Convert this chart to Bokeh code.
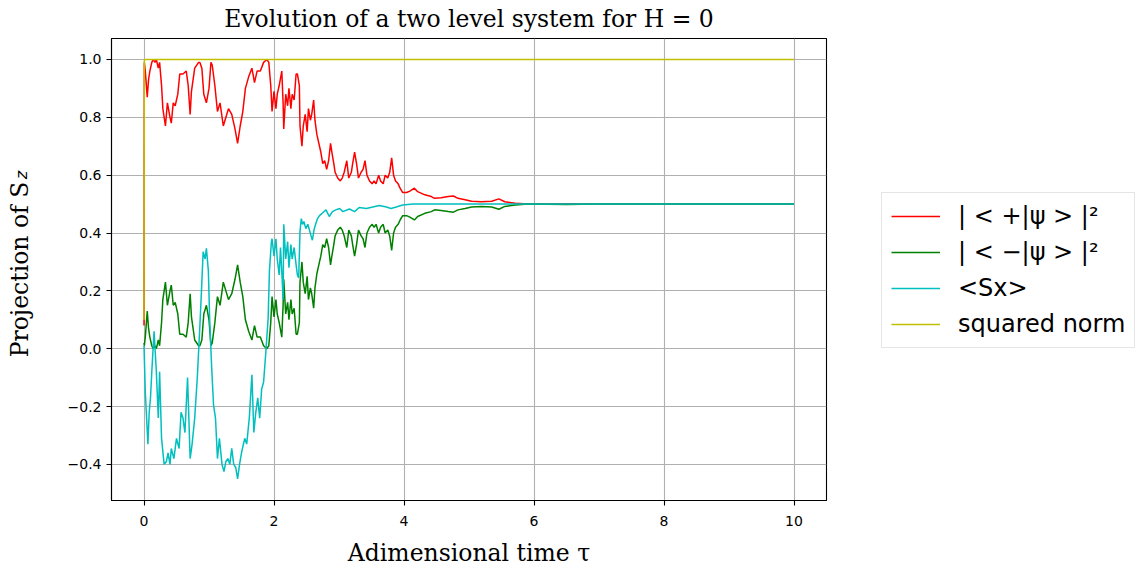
from bokeh.embed import file_html
from bokeh.layouts import row
from bokeh.models import FixedTicker, Legend, LegendItem, LinearAxis, Range1d
from bokeh.plotting import figure
from bokeh.resources import INLINE

# ---- data -----------------------------------------------------------------
# time grid shared by the two projection probabilities
tau_pm = [
    0.000, 0.005, 0.02, 0.05, 0.07, 0.09, 0.12, 0.14, 0.17, 0.19,
    0.22, 0.24, 0.27, 0.29, 0.33, 0.36, 0.40, 0.42, 0.45, 0.48,
    0.52, 0.55, 0.60, 0.65, 0.68, 0.71, 0.73, 0.78, 0.84, 0.86,
    0.89, 0.92, 0.96, 1.00, 1.03, 1.05, 1.09, 1.13, 1.17, 1.22,
    1.26, 1.30, 1.35, 1.40, 1.44, 1.48, 1.52, 1.56, 1.61, 1.66,
    1.70, 1.74, 1.79, 1.84, 1.89, 1.92, 1.95, 1.97, 2.00, 2.03,
    2.05, 2.08, 2.12, 2.14, 2.15, 2.18, 2.21, 2.23, 2.26, 2.28,
    2.31, 2.34, 2.36, 2.39, 2.40, 2.43, 2.45, 2.48, 2.51, 2.53,
    2.56, 2.58, 2.61, 2.63, 2.66, 2.70, 2.72, 2.75, 2.78, 2.81,
    2.84, 2.87, 2.89, 2.92, 2.94, 2.98, 3.02, 3.05, 3.08, 3.12,
    3.15, 3.19, 3.21, 3.24, 3.27, 3.30, 3.34, 3.37, 3.40, 3.43,
    3.47, 3.51, 3.54, 3.57, 3.61, 3.64, 3.68, 3.71, 3.75, 3.78,
    3.81, 3.84, 3.87, 3.91, 3.94, 3.98, 4.04, 4.09, 4.16, 4.21,
    4.32, 4.42, 4.47, 4.57, 4.68, 4.76, 4.83, 4.94, 5.04, 5.19,
    5.35, 5.46, 5.55, 5.71, 5.91, 6.50, 7.00, 10.00,
]

# |<+|psi>|^2
p_plus = [
    0.08, 0.99, 0.96, 0.87, 0.93, 0.96, 0.99, 1.00, 0.99, 1.00,
    0.97, 0.99, 0.91, 0.83, 0.77, 0.85, 0.80, 0.78, 0.85, 0.84,
    0.88, 0.95, 0.95, 0.96, 0.91, 0.81, 0.89, 0.97, 0.99, 0.99,
    0.97, 0.88, 0.85, 0.90, 0.99, 0.98, 0.91, 0.82, 0.85, 0.77,
    0.80, 0.83, 0.81, 0.76, 0.71, 0.77, 0.82, 0.90, 0.94, 0.97,
    0.92, 0.96, 0.96, 0.99, 1.00, 0.99, 0.91, 0.82, 0.89, 0.83,
    0.88, 0.91, 0.96, 0.85, 0.76, 0.88, 0.84, 0.90, 0.83, 0.88,
    0.86, 0.95, 0.95, 0.91, 0.77, 0.70, 0.77, 0.81, 0.75, 0.83,
    0.79, 0.81, 0.86, 0.79, 0.74, 0.70, 0.68, 0.64, 0.65, 0.62,
    0.65, 0.71, 0.68, 0.64, 0.61, 0.59, 0.58, 0.59, 0.61, 0.65,
    0.59, 0.61, 0.64, 0.68, 0.64, 0.59, 0.61, 0.62, 0.65, 0.60,
    0.58, 0.57, 0.58, 0.57, 0.60, 0.58, 0.57, 0.60, 0.59, 0.61,
    0.66, 0.60, 0.58, 0.57, 0.555, 0.54, 0.54, 0.545, 0.555, 0.543,
    0.532, 0.526, 0.52, 0.522, 0.526, 0.528, 0.52, 0.515, 0.51, 0.508,
    0.51, 0.518, 0.508, 0.503, 0.50, 0.501, 0.50, 0.50,
]

# |<-|psi>|^2
p_minus = [
    0.02, 0.01, 0.04, 0.13, 0.07, 0.04, 0.01, 0.00, 0.01, 0.00,
    0.03, 0.01, 0.09, 0.17, 0.23, 0.15, 0.20, 0.22, 0.15, 0.16,
    0.12, 0.05, 0.05, 0.04, 0.09, 0.19, 0.11, 0.03, 0.01, 0.01,
    0.03, 0.12, 0.15, 0.10, 0.01, 0.02, 0.09, 0.18, 0.15, 0.23,
    0.20, 0.17, 0.19, 0.24, 0.29, 0.23, 0.18, 0.10, 0.06, 0.03,
    0.08, 0.04, 0.04, 0.01, 0.00, 0.01, 0.09, 0.18, 0.11, 0.17,
    0.12, 0.09, 0.04, 0.15, 0.24, 0.12, 0.16, 0.10, 0.17, 0.12,
    0.14, 0.05, 0.05, 0.09, 0.23, 0.30, 0.23, 0.19, 0.25, 0.17,
    0.21, 0.19, 0.14, 0.21, 0.26, 0.30, 0.32, 0.36, 0.35, 0.38,
    0.35, 0.29, 0.32, 0.36, 0.39, 0.41, 0.42, 0.41, 0.39, 0.35,
    0.41, 0.39, 0.36, 0.32, 0.36, 0.41, 0.39, 0.38, 0.35, 0.40,
    0.42, 0.43, 0.42, 0.43, 0.40, 0.42, 0.43, 0.40, 0.41, 0.39,
    0.34, 0.40, 0.42, 0.43, 0.445, 0.46, 0.46, 0.455, 0.445, 0.457,
    0.468, 0.474, 0.48, 0.478, 0.474, 0.472, 0.48, 0.485, 0.49, 0.492,
    0.49, 0.482, 0.492, 0.497, 0.50, 0.499, 0.50, 0.50,
]

# <Sx>
tau_sx = [
    0.000, 0.02, 0.04, 0.06, 0.08, 0.10, 0.12, 0.155, 0.19, 0.22,
    0.24, 0.27, 0.31, 0.345, 0.37, 0.40, 0.42, 0.46, 0.50, 0.54,
    0.57, 0.60, 0.63, 0.67, 0.71, 0.74, 0.78, 0.82, 0.86, 0.89,
    0.91, 0.94, 0.96, 0.99, 1.01, 1.04, 1.07, 1.10, 1.13, 1.16,
    1.20, 1.23, 1.26, 1.29, 1.32, 1.35, 1.38, 1.41, 1.44, 1.47,
    1.50, 1.55, 1.58, 1.62, 1.66, 1.69, 1.72, 1.75, 1.78, 1.81,
    1.84, 1.875, 1.91, 1.93, 1.96, 1.97, 2.00, 2.03, 2.05, 2.08,
    2.10, 2.13, 2.14, 2.15, 2.18, 2.21, 2.23, 2.26, 2.28, 2.31,
    2.34, 2.36, 2.38, 2.40, 2.42, 2.44, 2.46, 2.49, 2.52, 2.54,
    2.57, 2.59, 2.62, 2.64, 2.67, 2.70, 2.75, 2.80, 2.85, 2.90,
    2.95, 3.01, 3.06, 3.16, 3.24, 3.31, 3.42, 3.52, 3.62, 3.73,
    3.80, 3.88, 3.98, 4.14, 10.00,
]
sx = [
    0.01, -0.15, -0.24, -0.33, -0.22, -0.17, -0.08, 0.06, -0.08, -0.24,
    -0.08, -0.31, -0.40, -0.39, -0.36, -0.40, -0.345, -0.38, -0.31, -0.345,
    -0.22, -0.24, -0.29, -0.10, -0.38, -0.33, -0.24, -0.10, 0.08, 0.23,
    0.335, 0.31, 0.347, 0.27, 0.105, -0.06, -0.195, -0.24, -0.38, -0.31,
    -0.40, -0.425, -0.39, -0.38, -0.40, -0.345, -0.40, -0.41, -0.45, -0.40,
    -0.36, -0.31, -0.33, -0.24, -0.09, -0.29, -0.22, -0.17, -0.24, -0.14,
    -0.115, -0.01, 0.105, 0.27, 0.37, 0.38, 0.32, 0.38, 0.31, 0.255,
    0.35, 0.22, 0.17, 0.43, 0.31, 0.37, 0.28, 0.36, 0.31, 0.35,
    0.29, 0.255, 0.245, 0.405, 0.45, 0.43, 0.44, 0.415, 0.43, 0.415,
    0.39, 0.375, 0.415, 0.43, 0.45, 0.46, 0.47, 0.48, 0.457, 0.474,
    0.48, 0.485, 0.474, 0.483, 0.474, 0.488, 0.485, 0.49, 0.495, 0.49,
    0.485, 0.49, 0.497, 0.50, 0.50,
]

# squared norm of the state
tau_norm = [0.0, 0.005, 10.0]
norm_sq = [0.10, 1.0, 1.0]

x_ticks = [0, 2, 4, 6, 8, 10]
y_ticks = [-0.4, -0.2, 0.0, 0.2, 0.4, 0.6, 0.8, 1.0]
y_tick_labels = ["−0.4", "−0.2", "0.0", "0.2", "0.4", "0.6", "0.8", "1.0"]

legend_labels = ["| < +|ψ > |²", "| < −|ψ > |²", "<Sx>", "squared norm"]
series_colors = ["#ff0000", "#008000", "#00bfbf", "#bfbf00"]

title_text = "Evolution of a two level system for H = 0"
x_title = "Adimensional time τ"
y_title = "Projection of S"
y_title_sub = "z"

SERIF = "DejaVu Serif"
SANS = "DejaVu Sans"
SUB_POS = 0.60  # where the subscript sits along the y axis

series = [
    (tau_pm, p_plus),
    (tau_pm, p_minus),
    (tau_sx, sx),
    (tau_norm, norm_sq),
]

# ---- main plot ------------------------------------------------------------
p = figure(
    frame_width=715, frame_height=462,
    min_border_left=111, min_border_right=4,
    min_border_top=37, min_border_bottom=70,
    x_range=Range1d(-0.5, 10.5), y_range=Range1d(-0.525, 1.0726),
    title=title_text,
    output_backend="svg", toolbar_location=None,
    background_fill_color="white", border_fill_color="white",
)

p.title.text_font = SERIF
p.title.text_font_style = "normal"
p.title.text_font_size = "23.5px"
p.title.text_color = "black"
p.title.align = "center"
p.title.vertical_align = "top"
p.title.standoff = 8

p.outline_line_color = "black"
p.outline_line_width = 1.1

for ax in (p.xaxis[0], p.yaxis[0]):
    ax.axis_line_color = "black"
    ax.axis_line_width = 1.1
    ax.major_tick_line_color = "black"
    ax.major_tick_line_width = 1.1
    ax.major_tick_in = 0
    ax.major_tick_out = 5
    ax.minor_tick_line_color = None
    ax.major_label_text_font = SANS
    ax.major_label_text_font_size = "14px"
    ax.major_label_text_color = "black"

p.xaxis.ticker = FixedTicker(ticks=x_ticks)
p.yaxis.ticker = FixedTicker(ticks=y_ticks)
p.yaxis.major_label_overrides = {v: s for v, s in zip(y_ticks, y_tick_labels)}
p.xaxis.major_label_standoff = 10
p.yaxis.major_label_standoff = 5

p.xaxis.axis_label = x_title
p.xaxis.axis_label_text_font = SERIF
p.xaxis.axis_label_text_font_style = "normal"
p.xaxis.axis_label_text_font_size = "23.5px"
p.xaxis.axis_label_text_color = "black"
p.xaxis.axis_label_standoff = 10

p.grid.grid_line_color = "#b0b0b0"
p.grid.grid_line_width = 1.1

# y title lives on an outer, line-less axis: the title is its axis label and
# the subscript is its single tick label
y_title_axis = LinearAxis(
    ticker=FixedTicker(ticks=[SUB_POS]),
    major_label_overrides={SUB_POS: y_title_sub},
    major_label_orientation="vertical",
    major_label_text_font=SANS,
    major_label_text_font_style="italic",
    major_label_text_font_size="16px",
    major_label_text_color="black",
    major_label_standoff=33,
    major_tick_in=0, major_tick_out=0,
    major_tick_line_color=None, minor_tick_line_color=None,
    axis_line_color=None,
    axis_label=y_title,
    axis_label_text_font=SERIF,
    axis_label_text_font_style="normal",
    axis_label_text_font_size="23.5px",
    axis_label_text_color="black",
    axis_label_standoff=-24,
)
p.add_layout(y_title_axis, "left")

for (xs, ys), color in zip(series, series_colors):
    p.line(xs, ys, line_color=color, line_width=1.5)

# ---- legend panel to the right of the axes --------------------------------
# The x range lies beyond the data, so only the legend swatches show here.
side = figure(
    width=306, height=569, min_border=0,
    x_range=Range1d(20, 21), y_range=Range1d(0, 1),
    x_axis_location=None, y_axis_location=None,
    output_backend="svg", toolbar_location=None,
    background_fill_color="white", border_fill_color="white",
    outline_line_color=None,
)
side.grid.visible = False

swatches = [side.line(xs, ys, line_color=color, line_width=1.5)
            for (xs, ys), color in zip(series, series_colors)]

legend = Legend(
    items=[LegendItem(label=lab, renderers=[r])
           for lab, r in zip(legend_labels, swatches)],
    location=(51, 151),
    margin=0, padding=9, spacing=8,
    glyph_width=49, glyph_height=20, label_standoff=18,
    label_text_font=SANS, label_text_font_size="24px", label_text_color="black",
    border_line_color="#cccccc", border_line_width=1,
    background_fill_color="white", background_fill_alpha=0.8,
)
side.add_layout(legend)

layout = row(p, side, spacing=0)
open("out.html", "w").write(file_html(layout, INLINE))
